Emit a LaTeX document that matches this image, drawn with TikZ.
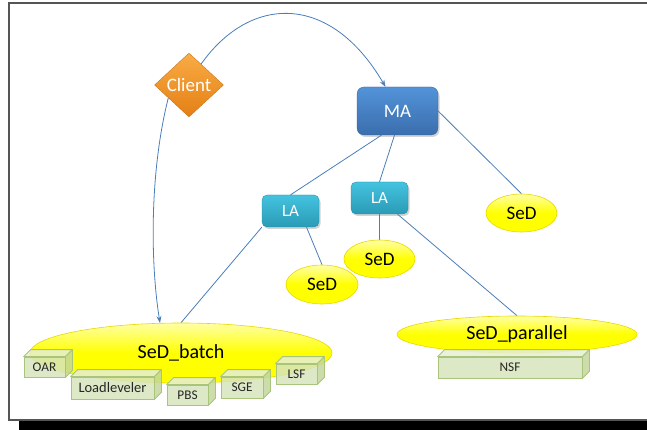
\documentclass[tikz,border=0pt]{standalone}
\usepackage{fontspec}
\setmainfont{Carlito}
\usetikzlibrary{shapes.geometric,shadows,arrows.meta,backgrounds}

\definecolor{linkblue}{HTML}{4A7EBB}
\definecolor{framegray}{HTML}{555555}
\definecolor{maTop}{HTML}{5393D9}
\definecolor{maBot}{HTML}{3A6EAD}
\definecolor{laTop}{HTML}{44C3DF}
\definecolor{laBot}{HTML}{2A9BB6}
\definecolor{clTop}{HTML}{F9AC45}
\definecolor{clBot}{HTML}{E47F14}
\definecolor{sedEdge}{HTML}{E8D800}
\definecolor{boxFront}{HTML}{D7E4BD}
\definecolor{boxTop}{HTML}{E6EED5}
\definecolor{boxSide}{HTML}{C3D69B}
\definecolor{boxLine}{HTML}{A9C57B}

\newcommand\crate[5]{%
  \node[cratefront, minimum width=#3pt, minimum height=#4pt] (#1) at #2 {#5};
  \filldraw[crateface, fill=boxTop] (#1.north west) -- ++(7,-7)
     -- ([shift={(7,-7)}]#1.north east) -- (#1.north east) -- cycle;
  \filldraw[crateface, fill=boxSide] (#1.north east) -- ++(7,-7)
     -- ([shift={(7,-7)}]#1.south east) -- (#1.south east) -- cycle;
}

\begin{document}
\begin{tikzpicture}[x=1pt,y=-1pt,
  link/.style={draw=linkblue, line width=0.8pt},
  arrowlink/.style={link, -{Stealth[length=7pt,width=5pt]}},
  agentbox/.style={rectangle, inner sep=0pt, text=white,
    drop shadow={shadow xshift=1.5pt, shadow yshift=-2pt, opacity=0.35}},
  mabox/.style={agentbox, rounded corners=7pt, top color=maTop, bottom color=maBot,
    draw=maBot!90!black, line width=0.3pt,
    minimum width=81pt, minimum height=48pt, font=\fontsize{19}{22}\selectfont},
  labox/.style={agentbox, rounded corners=5pt, top color=laTop, bottom color=laBot,
    draw=laBot!90!black, line width=0.3pt,
    minimum width=57pt, minimum height=32pt, font=\fontsize{17}{20}\selectfont},
  sed/.style={ellipse, inner sep=0pt, draw=sedEdge, line width=0.6pt,
    top color=yellow!35!white, bottom color=yellow, middle color=yellow,
    text=black},
  smallsed/.style={sed, minimum width=71pt, minimum height=38pt,
    font=\fontsize{19}{22}\selectfont},
  bigsed/.style={sed, font=\fontsize{20}{24}\selectfont},
  client/.style={diamond, inner sep=0pt, minimum width=69pt, minimum height=64pt,
    top color=clTop, bottom color=clBot, draw=clBot!85!black, line width=0.3pt,
    text=white, font=\fontsize{19}{22}\selectfont},
  cratefront/.style={rectangle, inner sep=0pt, draw=boxLine, line width=0.8pt,
    fill=boxFront, fill opacity=0.85, text opacity=1, text=black!85,
    font=\fontsize{13.3}{15}\selectfont},
  crateface/.style={draw=boxLine, line width=0.8pt, fill opacity=0.85, line join=round}
]
\useasboundingbox (0,0) rectangle (647,430);

% agents
\node[client] (cl) at (189,85) {Client};
\node[mabox] (ma) at (397.5,111) {MA};
\node[labox] (la1) at (290.5,211) {LA};
\node[labox] (la2) at (379.5,198) {LA};

% servers
\node[smallsed] (sedR) at (521.5,213) {SeD};
\node[smallsed] (sedM) at (379.5,259) {SeD};
\node[smallsed, minimum width=72pt, minimum height=39pt] (sedL) at (322,284.5) {SeD};
\node[bigsed, minimum width=302pt, minimum height=60pt] (batch) at (181,353) {SeD\_batch};
\node[bigsed, minimum width=240pt, minimum height=37pt] (par) at (517,334.5) {SeD\_parallel};

% batch schedulers and parallel back end
\crate{oar}{(44.5,367)}{41}{20}{OAR}
\node[cratefront, minimum width=83pt, minimum height=22pt, font=\fontsize{14.5}{16}\selectfont] (ll) at (112.5,388) {Loadleveler};
\filldraw[crateface, fill=boxTop] (ll.north west) -- ++(7,-7)
   -- ([shift={(7,-7)}]ll.north east) -- (ll.north east) -- cycle;
\filldraw[crateface, fill=boxSide] (ll.north east) -- ++(7,-7)
   -- ([shift={(7,-7)}]ll.south east) -- (ll.south east) -- cycle;
\crate{pbs}{(187.5,395)}{41}{20}{PBS}
\crate{sge}{(242,387.5)}{42}{21}{SGE}
\crate{lsf}{(296.5,374)}{41}{20}{LSF}
\crate{nsf}{(510,367.5)}{144}{21}{NSF}

\begin{scope}[on background layer]
  % slide frame
  \fill[black] (19,421) rectangle (647,430);
  \draw[framegray, line width=1.2pt] (647,3) -- (9,3) -- (9,420) -- (647,420);

  % hierarchy links
  \draw[link] ([xshift=-16pt]ma.south) -- (la1.north);
  \draw[link] ([xshift=-3pt]ma.south) -- (la2.north);
  \draw[link] (ma.east) -- (sedR.north);
  \draw[link] ([xshift=16pt]la1.south) -- (sedL.north);
  \draw[link] (la2.south) -- (sedM.north);
  \draw[link] ([xshift=18pt]la2.south) -- (par.north);
  \draw[link] (la1.south west) -- (batch.north);

  % client requests
  \draw[arrowlink] (cl.60) .. controls (250,-5) and (330,-8) .. ([xshift=-12pt]ma.north);
  \draw[arrowlink] (cl.212) .. controls (150,170) and (150,260) .. (batch.125);
\end{scope}
\end{tikzpicture}
\end{document}
